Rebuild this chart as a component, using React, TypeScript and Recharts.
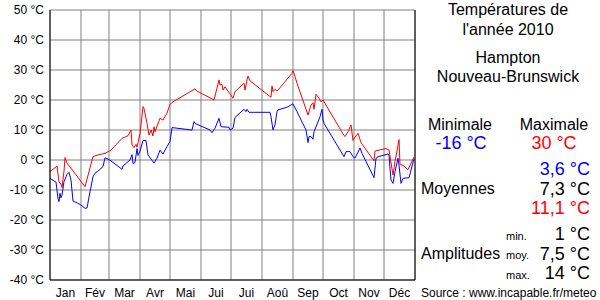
import { LineChart, Line, XAxis, YAxis, CartesianGrid, ReferenceLine } from 'recharts'

// month boundaries (day of year) and labels
const monthStarts = [0, 31, 59, 90, 120, 151, 181, 212, 243, 273, 304, 334, 365]
const monthLabels = ['Jan', 'Fév', 'Mar', 'Avr', 'Mai', 'Jui', 'Jui', 'Aoû', 'Sep', 'Oct', 'Nov', 'Déc']
const tempTicks = [-40, -30, -20, -10, 0, 10, 20, 30, 40, 50]

// daily maximum (red)
const maxDays = [
  0, 7, 9, 11, 12, 14, 15, 17, 35, 43, 48, 55, 61, 72, 78, 81, 82, 84, 86, 87, 90, 93, 94, 97, 99, 101, 103,
  104, 105, 110, 113, 117, 120, 123, 145, 147, 164, 169, 170, 172, 173, 175, 183, 185, 194, 195, 197, 198, 200,
  221, 222, 223, 225, 227, 228, 242, 243, 245, 247, 258, 261, 263, 264, 266, 269, 271, 273, 293, 295, 298, 301,
  303, 304, 308, 311, 324, 325, 336, 339, 342, 343, 345, 347, 349, 350, 353, 358, 364,
]
const maxTemps = [
  -3.9, -2, -7.3, -8, -9.2, -3.7, 0.8, -1, -8.9, 1.1, 1.7, 2.2, 3.3, 7.2, 8.1, 10, 5, 4.1, 5.2, 4.3, 8.9, 17.8,
  17.2, 12.2, 8.3, 10, 8, 11.1, 9.4, 13.9, 13.3, 15.6, 18.6, 19.4, 23.7, 23, 20, 26.7, 25, 25.2, 23.3, 24.4,
  20.6, 22.8, 25.6, 23.3, 26.7, 28, 26.4, 20.9, 24.7, 22.8, 23.6, 23, 23.3, 28.9, 29.8, 27.8, 25.6, 15, 18.3,
  19.1, 16.9, 21.9, 20.6, 19.4, 20, 8.7, 7.8, 9.4, 11.7, 6.5, 7.2, 8.9, 5.8, -0.3, 3, 3.8, 3.3, -3, -5, -0.5,
  3, 6.8, -1.5, -1.8, -3.2, 1,
]

// daily minimum (blue)
const minDays = [
  0, 6, 8, 9, 10, 11, 12, 14, 17, 19, 21, 23, 26, 31, 35, 37, 40, 43, 45, 48, 53, 55, 58, 61, 72, 73, 80, 82,
  83, 85, 87, 88, 90, 93, 96, 98, 104, 107, 110, 113, 117, 120, 122, 142, 144, 145, 160, 162, 165, 169, 171,
  179, 180, 183, 185, 194, 196, 197, 199, 220, 221, 223, 225, 227, 228, 237, 243, 247, 256, 258, 259, 261, 263,
  264, 270, 272, 273, 274, 294, 296, 300, 303, 305, 310, 312, 324, 326, 328, 338, 339, 340, 341, 343, 345, 348,
  349, 351, 353, 359, 364,
]
const minTemps = [
  -6.1, -7.4, -12.8, -13.9, -11.1, -12.6, -11.7, -7.2, -4.8, -4.1, -6.7, -13.7, -14.1, -15, -16.1, -16, -10.6,
  -5.6, -4.4, -3.7, -2.2, 0.7, 0.3, -0.3, -3.1, -2, 0, 1.8, -1.2, -0.8, 3.8, 1.5, 3, 6.5, 6.5, 1.7, -1, 0.6,
  3.3, 2, 4.5, 6.1, 10.8, 10, 12.8, 12.2, 10, 9.1, 10.6, 13.9, 11.1, 10.9, 10, 10.6, 14.2, 16.9, 16.1, 16.9,
  15.9, 15.9, 14.4, 10, 11.7, 16.1, 16.7, 17.6, 18.7, 16.1, 10, 5.8, 7.8, 7.8, 6.9, 9.4, 14.4, 16.9, 13.3, 12.2,
  1.1, 2.8, 2.8, 1.1, 0.6, 4, 2.2, -5.9, 0.6, 1.1, 2, 1.7, -2.8, -6.7, -7.8, -3.9, 0.6, -1.7, -7.8, -6.1, -5.9,
  0.5,
]

const maxData = maxDays.map((d, i) => ({ day: d, t: maxTemps[i] }))
const minData = minDays.map((d, i) => ({ day: d, t: minTemps[i] }))

const FONT = '"Liberation Sans", Arial, sans-serif'
const PLOT_W = 365
const PX_PER_DAY = PLOT_W / 365

function MonthTick(props: any) {
  const { x, y, index } = props
  if (index >= monthLabels.length) return null
  const offset = ((monthStarts[index + 1] - monthStarts[index]) / 2) * PX_PER_DAY
  return (
    <text x={x + offset} y={y + 15} textAnchor="middle" fontSize={12} fontFamily={FONT} fill="#000">
      {monthLabels[index]}
    </text>
  )
}

function SidePanel() {
  const t = { fontFamily: FONT, fill: '#000' }
  return (
    <svg width={600} height={300} style={{ position: 'absolute', left: 0, top: 0, pointerEvents: 'none' }}>
      <text x={508} y={15} fontSize={16} textAnchor="middle" {...t}>Températures de</text>
      <text x={508} y={35} fontSize={16} textAnchor="middle" {...t}>l'année 2010</text>
      <text x={508} y={63} fontSize={16} textAnchor="middle" {...t}>Hampton</text>
      <text x={508} y={82} fontSize={16} textAnchor="middle" {...t}>Nouveau-Brunswick</text>

      <text x={460} y={130} fontSize={16} textAnchor="middle" {...t}>Minimale</text>
      <text x={554} y={130} fontSize={16} textAnchor="middle" {...t}>Maximale</text>
      <text x={461} y={149} fontSize={18} textAnchor="middle" fontFamily={FONT} fill="#0000ff">-16 °C</text>
      <text x={554} y={149} fontSize={18} textAnchor="middle" fontFamily={FONT} fill="#ff0000">30 °C</text>

      <text x={590} y={175} fontSize={18} textAnchor="end" fontFamily={FONT} fill="#0000ff">3,6 °C</text>
      <text x={421} y={194} fontSize={16} {...t}>Moyennes</text>
      <text x={590} y={195} fontSize={18} textAnchor="end" {...t}>7,3 °C</text>
      <text x={590} y={214} fontSize={18} textAnchor="end" fontFamily={FONT} fill="#ff0000">11,1 °C</text>

      <text x={506} y={240} fontSize={11} {...t}>min.</text>
      <text x={590} y={240} fontSize={18} textAnchor="end" {...t}>1 °C</text>
      <text x={421} y={259} fontSize={16} {...t}>Amplitudes</text>
      <text x={506} y={259} fontSize={11} {...t}>moy.</text>
      <text x={590} y={260} fontSize={18} textAnchor="end" {...t}>7,5 °C</text>
      <text x={506} y={279} fontSize={11} {...t}>max.</text>
      <text x={590} y={279} fontSize={18} textAnchor="end" {...t}>14 °C</text>

      <text x={421} y={297} fontSize={12} {...t}>Source : www.incapable.fr/meteo</text>
    </svg>
  )
}

export default function App() {
  return (
    <div style={{ position: 'relative', width: 600, height: 300, background: '#fff' }}>
      <style>{'body { margin: 0; }'}</style>
      <LineChart width={600} height={300} margin={{ top: 10, right: 185, left: 0, bottom: 0 }}>
        <CartesianGrid stroke="#808080" strokeWidth={1} />
        <XAxis
          dataKey="day"
          type="number"
          domain={[0, 365]}
          ticks={monthStarts}
          interval={0}
          allowDuplicatedCategory={false}
          height={20}
          tickLine={false}
          tickSize={0}
          axisLine={{ stroke: '#000' }}
          tick={<MonthTick />}
        />
        <YAxis
          type="number"
          domain={[-40, 50]}
          ticks={tempTicks}
          interval={0}
          width={50}
          tickLine={false}
          tickSize={0}
          tickMargin={6}
          axisLine={{ stroke: '#000' }}
          tickFormatter={(v: number) => `${v} °C`}
          tick={{ fontSize: 12, fill: '#000', fontFamily: FONT }}
        />
        <ReferenceLine x={365} stroke="#000" />
        <Line data={minData} dataKey="t" type="linear" stroke="#0000ff" strokeWidth={1} dot={false} isAnimationActive={false} />
        <Line data={maxData} dataKey="t" type="linear" stroke="#ff0000" strokeWidth={1} dot={false} isAnimationActive={false} />
      </LineChart>
      <SidePanel />
    </div>
  )
}
